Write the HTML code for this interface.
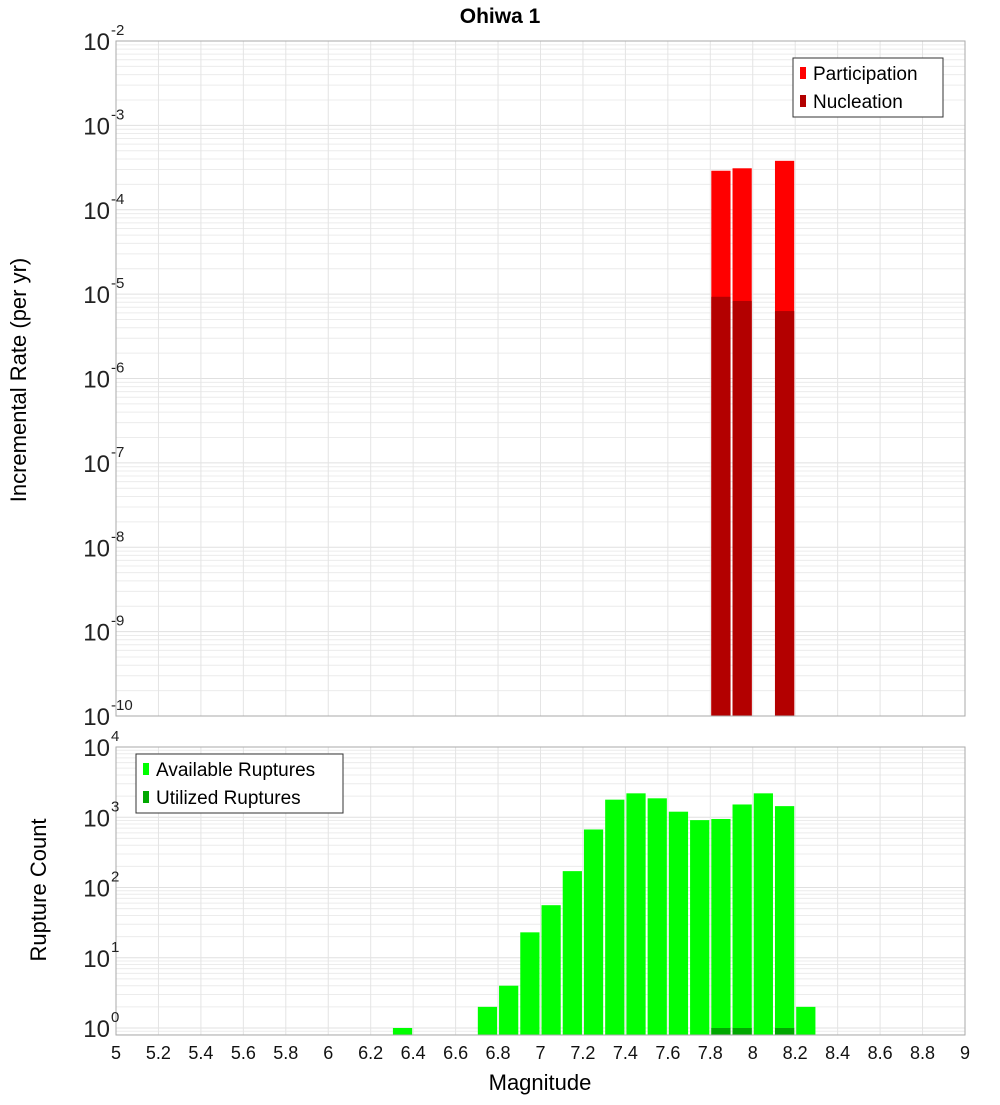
<!DOCTYPE html>
<html><head><meta charset="utf-8"><style>
body{margin:0;background:#fff;width:1000px;height:1100px;overflow:hidden}
svg{font-family:"Liberation Sans","DejaVu Sans",sans-serif}
</style></head><body>
<svg id="c" width="1000" height="1100" xmlns="http://www.w3.org/2000/svg"></svg>
<script>
const topMags = [7.85, 7.95, 8.15];
const participation = [2.9e-4, 3.1e-4, 3.8e-4];
const nucleation = [9.3e-6, 8.3e-6, 6.3e-6];
const botMags = [6.35, 6.75, 6.85, 6.95, 7.05, 7.15, 7.25, 7.35, 7.45, 7.55, 7.65, 7.75, 7.85, 7.95, 8.05, 8.15, 8.25];
const available = [1, 2, 4, 23, 56, 171, 670, 1780, 2190, 1860, 1200, 910, 945, 1520, 2190, 1440, 2];
const utilMags = [7.85, 7.95, 8.15];
const utilized = [1, 1, 1];
const xTicks = ["5","5.2","5.4","5.6","5.8","6","6.2","6.4","6.6","6.8","7","7.2","7.4","7.6","7.8","8","8.2","8.4","8.6","8.8","9"];
const topYExp = [-10,-9,-8,-7,-6,-5,-4,-3,-2];
const botYExp = [0,1,2,3,4];

const NS="http://www.w3.org/2000/svg", svg=document.getElementById('c');
function mk(tag,attrs,parent){const e=document.createElementNS(NS,tag);for(const k in attrs)e.setAttribute(k,attrs[k]);(parent||svg).appendChild(e);return e;}
const L=116,R=965;
const x=m=>L+(m-5)/4*(R-L);
const T1=41,B1=716; const yTop=v=>T1+(-2-Math.log10(v))/8*(B1-T1);
const T2=747,B2=1035,D2=70.25; const yBot=v=>1028-Math.log10(v)*D2;
const bw=(x(5.1)-x(5))-2;

function grid(top,bot,ymap,expLo,expHi){
  for(let e=expLo;e<=expHi;e++){for(let k=1;k<10;k++){const v=k*Math.pow(10,e);const y=ymap(v);if(y<top-0.5||y>bot+0.5)continue;
    const g=mk('line',{x1:L,x2:R,y1:y,y2:y,stroke:k==1?'#e0e0e0':'#ececec','stroke-width':1});
    
    }}
  xTicks.forEach(t=>{const xx=x(+t);const g=mk('line',{x1:xx,x2:xx,y1:top,y2:bot,stroke:'#e4e4e4','stroke-width':1});
    
    });
}
grid(T1,B1,yTop,-10,-3);
grid(T2,B2,yBot,-1,3);

// top bars
topMags.forEach((m,i)=>{
  const p=mk('rect',{x:x(m)-bw/2,y:yTop(participation[i]),width:bw,height:B1-yTop(participation[i]),fill:'#ff0000'});
  
  
  const n=mk('rect',{x:x(m)-bw/2,y:yTop(nucleation[i]),width:bw,height:B1-yTop(nucleation[i]),fill:'#b30000'});
  
  
});
// bottom bars
botMags.forEach((m,i)=>{
  const b=mk('rect',{x:x(m)-bw/2,y:yBot(available[i]),width:bw,height:B2-yBot(available[i]),fill:'#00ff00'});
  
  
});
utilMags.forEach((m,i)=>{
  const b=mk('rect',{x:x(m)-bw/2,y:yBot(utilized[i]),width:bw,height:B2-yBot(utilized[i]),fill:'#00a800'});
  
  
});
// frames
const f1=mk('rect',{x:L,y:T1,width:R-L,height:B1-T1,fill:'none',stroke:'#aaa'});


const f2=mk('rect',{x:L,y:T2,width:R-L,height:B2-T2,fill:'none',stroke:'#aaa'});



// y tick labels
function ylab(y,e,name){const t=mk('text',{x:110,y:y+9,'text-anchor':'end','font-size':24,fill:'#222'});
  
  
  t.textContent='10';
  const s=mk('text',{x:111,y:y-6,'text-anchor':'start','font-size':15,fill:'#222'});
  
  
  s.textContent=e;}
topYExp.forEach(e=>ylab(yTop(Math.pow(10,e)),e,'top-y-tick-label'));
botYExp.forEach(e=>ylab(yBot(Math.pow(10,e)),e,'bottom-y-tick-label'));
// x tick labels
xTicks.forEach(t=>{const l=mk('text',{x:x(+t),y:1059,'text-anchor':'middle','font-size':18,fill:'#111'});
  
  
  l.textContent=t;});

// titles
const ti=mk('text',{x:500,y:23,'text-anchor':'middle','font-size':21,'font-weight':'bold'});ti.textContent='Ohiwa 1';


const xt=mk('text',{x:540,y:1090,'text-anchor':'middle','font-size':22});xt.textContent='Magnitude';


const yt1=mk('text',{x:0,y:0,'text-anchor':'middle','font-size':22,transform:'translate(26,380) rotate(-90)'});yt1.textContent='Incremental Rate (per yr)';


const yt2=mk('text',{x:0,y:0,'text-anchor':'middle','font-size':22,transform:'translate(46,890) rotate(-90)'});yt2.textContent='Rupture Count';



// legends
function legend(x0,y0,w,items,name){const g=mk('g',{});
  
  
  mk('rect',{x:x0,y:y0,width:w,height:59,fill:'#fff',stroke:'#333'},g);
  items.forEach((it,i)=>{const yy=y0+15+i*28;
    mk('rect',{x:x0+7,y:yy-6,width:6,height:12,fill:it[1]},g);
    const t=mk('text',{x:x0+20,y:yy+7,'font-size':19},g);
    
    
    t.textContent=it[0];});}
legend(793,58,150,[['Participation','#ff0000'],['Nucleation','#b30000']],'top-legend');
legend(136,754,207,[['Available Ruptures','#00ff00'],['Utilized Ruptures','#00a800']],'bottom-legend');
</script>
</body></html>
